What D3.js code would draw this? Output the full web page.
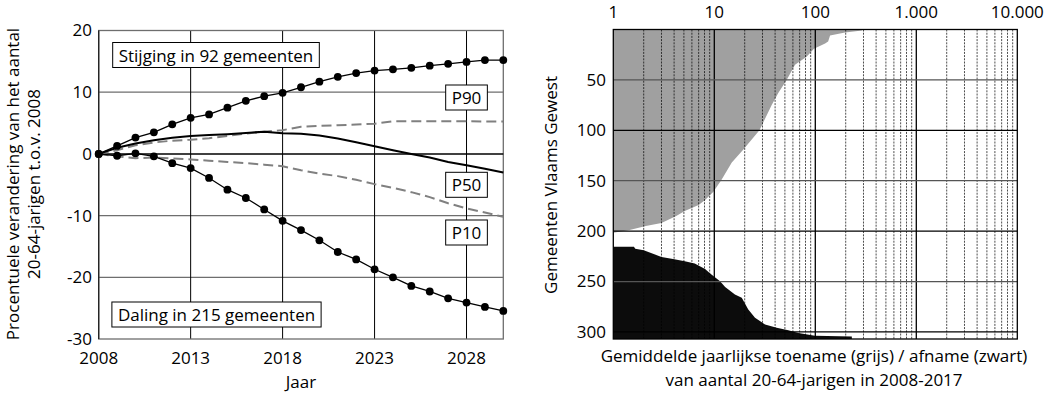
<!DOCTYPE html>
<html>
<head>
<meta charset="utf-8">
<script src="https://cdn.jsdelivr.net/npm/d3@7"></script>
<style>
  body { margin: 0; background: #fff; }
  text { font-family: "Open Sans", sans-serif; font-size: 17px; fill: #000; }
</style>
</head>
<body>
<svg id="chart" width="1055" height="393"></svg>
<script>
// jaren en procentuele verandering t.o.v. 2008
const years = [2008, 2009, 2010, 2011, 2012, 2013, 2014, 2015, 2016, 2017, 2018,
  2019, 2020, 2021, 2022, 2023, 2024, 2025, 2026, 2027, 2028, 2029, 2030];
const maxLine = [0, 1.3, 2.65, 3.5, 4.8, 5.85, 6.4, 7.5, 8.6, 9.35, 9.9, 10.8, 11.7,
  12.5, 13.1, 13.5, 13.7, 13.95, 14.3, 14.6, 14.9, 15.2, 15.2];
const p90 = [0, 0.6, 1.4, 1.85, 2.15, 2.3, 2.55, 2.9, 3.3, 3.6, 3.85, 4.4, 4.55,
  4.65, 4.75, 4.9, 5.3, 5.3, 5.3, 5.3, 5.3, 5.25, 5.25];
const p50 = [0, 1.0, 1.7, 2.2, 2.6, 2.9, 3.05, 3.2, 3.4, 3.6, 3.35, 3.25, 3.0,
  2.5, 1.9, 1.25, 0.6, 0.0, -0.6, -1.3, -1.85, -2.4, -3.0];
const p10 = [0, -0.4, -0.7, -0.6, -0.75, -0.9, -1.1, -1.3, -1.5, -1.75, -2.0, -2.65, -3.2,
  -3.6, -4.2, -4.9, -5.5, -6.2, -7.0, -8.0, -8.85, -9.5, -10.2];
const minLine = [0, -0.3, 0.1, -0.4, -1.5, -2.3, -3.9, -5.8, -7.15, -9.0, -10.85, -12.35, -14.0,
  -15.9, -17.1, -18.7, -20.0, -21.4, -22.3, -23.4, -24.1, -24.8, -25.45];
const leftYTicks = [-30, -20, -10, 0, 10, 20];
const leftXTicks = [2008, 2013, 2018, 2023, 2028];

// gemeenten gerangschikt: [rang, gemiddelde jaarlijkse toename/afname]
const growthRank = [0, 1, 3, 6, 12, 14, 19, 27, 35, 50, 63, 75, 100, 119, 132, 149, 161,
  169, 174, 180, 185, 192, 195, 199, 201.5];
const growthVal = [290, 290, 197, 140, 134, 125, 97, 82, 63, 52, 43, 37, 28, 19.4, 14.9, 11.8, 9.8,
  8.1, 7.0, 5.1, 4.2, 3.0, 2.1, 1.45, 1.0];
const declineRank = [215.6, 217.5, 219, 225.6, 227.6, 230, 232.2, 237.5, 242, 249.7, 255.3,
  262.9, 266, 277.7, 286, 292.6, 295.9, 298.3, 301, 303.8, 304.6, 307];
const declineVal = [1.6, 1.65, 2.0, 3.0, 3.9, 5.1, 6.4, 8.1, 9.1, 11.4, 12.8,
  16, 18.7, 21.7, 25.3, 31.8, 41.5, 54, 68, 99, 230, 230];
const rightYTicks = [50, 100, 150, 200, 250, 300];
const rightXTicks = [1, 10, 100, 1000, 10000];
const rightXLabels = ["1", "10", "100", "1.000", "10.000"];

const svg = d3.select("#chart");
const gridGray = "#6e6e6e";

// ---------- linker grafiek ----------
const x = d3.scaleLinear().domain([2008, 2030]).range([98.7, 503.3]);
const y = d3.scaleLinear().domain([-30, 20]).range([339, 30.5]);
const left = svg.append("g");

left.selectAll(".hgrid")
  .data(leftYTicks.filter(d => d !== 0 && d !== 20 && d !== -30))
  .enter().append("line")
  .attr("x1", x(2008)).attr("x2", x(2030))
  .attr("y1", d => y(d)).attr("y2", d => y(d))
  .attr("stroke", gridGray).attr("stroke-width", 1.3);

left.selectAll(".vgrid")
  .data(leftXTicks.slice(1))
  .enter().append("line")
  .attr("x1", d => x(d)).attr("x2", d => x(d))
  .attr("y1", y(20)).attr("y2", y(-30))
  .attr("stroke", "#000").attr("stroke-width", 1);

left.append("rect")
  .attr("x", x(2008)).attr("y", y(20))
  .attr("width", x(2030) - x(2008)).attr("height", y(-30) - y(20))
  .attr("fill", "none").attr("stroke", gridGray).attr("stroke-width", 1.3);
left.append("line")
  .attr("x1", x(2008)).attr("x2", x(2008)).attr("y1", y(20)).attr("y2", y(-30))
  .attr("stroke", "#222").attr("stroke-width", 1.3);
left.append("line")
  .attr("x1", x(2008)).attr("x2", x(2030)).attr("y1", y(0)).attr("y2", y(0))
  .attr("stroke", "#000").attr("stroke-width", 1.5);

const line = vals => d3.line().x((d, i) => x(years[i])).y(d => y(d))(vals);

left.append("path").attr("d", line(p90))
  .attr("fill", "none").attr("stroke", "#808080").attr("stroke-width", 2)
  .attr("stroke-dasharray", "10,5");
left.append("path").attr("d", line(p10))
  .attr("fill", "none").attr("stroke", "#808080").attr("stroke-width", 2)
  .attr("stroke-dasharray", "10,5");
left.append("path").attr("d", line(p50))
  .attr("fill", "none").attr("stroke", "#000").attr("stroke-width", 2);

[maxLine, minLine].forEach(vals => {
  left.append("path").attr("d", line(vals))
    .attr("fill", "none").attr("stroke", "#000").attr("stroke-width", 1.3);
  left.selectAll(null).data(vals).enter().append("circle")
    .attr("cx", (d, i) => x(years[i])).attr("cy", d => y(d))
    .attr("r", 3.9).attr("fill", "#000");
});

// tekstvakken
function box(g, cx, cy, label) {
  const t = g.append("text").attr("x", cx).attr("y", cy)
    .attr("text-anchor", "middle").attr("dominant-baseline", "central").text(label);
  const b = t.node().getBBox();
  g.insert("rect", () => t.node())
    .attr("x", b.x - 6).attr("y", cy - 12.5)
    .attr("width", b.width + 12).attr("height", 25)
    .attr("fill", "#fff").attr("stroke", "#000").attr("stroke-width", 1);
}
box(left, 216, 55, "Stijging in 92 gemeenten");
box(left, 216.5, 314.5, "Daling in 215 gemeenten");
box(left, x(2028), 97.5, "P90");
box(left, x(2028), 184.8, "P50");
box(left, x(2028), 232.5, "P10");

// assen
left.selectAll(".ylab").data(leftYTicks).enter().append("text")
  .attr("x", 92).attr("y", d => y(d)).attr("dy", "0.35em")
  .attr("text-anchor", "end").text(d => d);
left.selectAll(".xlab").data(leftXTicks).enter().append("text")
  .attr("x", d => x(d)).attr("y", 364)
  .attr("text-anchor", "middle").text(d => d);
left.append("text").attr("x", x(2019)).attr("y", 388)
  .attr("text-anchor", "middle").text("Jaar");
left.append("text").attr("transform", "translate(19,184) rotate(-90)")
  .attr("text-anchor", "middle").text("Procentuele verandering van het aantal");
left.append("text").attr("transform", "translate(40,184) rotate(-90)")
  .attr("text-anchor", "middle").text("20-64-jarigen t.o.v. 2008");

// ---------- rechter grafiek ----------
const xr = d3.scaleLog().domain([1, 10000]).range([613.3, 1017.3]);
const yr = d3.scaleLinear().domain([0, 307]).range([29.5, 339]);
const right = svg.append("g");

const area = (ranks, vals) => d3.area()
  .y((d, i) => yr(ranks[i]))
  .x0(xr(1))
  .x1(d => xr(d))(vals);

right.append("path").attr("d", area(growthRank, growthVal)).attr("fill", "#a0a0a0");
right.append("path").attr("d", area(declineRank, declineVal)).attr("fill", "#0c0c0c");

const minor = [];
[1, 10, 100, 1000].forEach(dec => {
  for (let k = 2; k <= 9; k++) minor.push(dec * k);
});
right.selectAll(".minor").data(minor).enter().append("line")
  .attr("x1", d => xr(d)).attr("x2", d => xr(d))
  .attr("y1", yr(0)).attr("y2", yr(307))
  .attr("stroke", "#000").attr("stroke-width", 0.7)
  .attr("stroke-dasharray", "2,1.2");
right.selectAll(".major").data([10, 100, 1000]).enter().append("line")
  .attr("x1", d => xr(d)).attr("x2", d => xr(d))
  .attr("y1", yr(0)).attr("y2", yr(307))
  .attr("stroke", "#000").attr("stroke-width", 1.3);
right.selectAll(".hgrid").data(rightYTicks).enter().append("line")
  .attr("x1", xr(1)).attr("x2", xr(10000))
  .attr("y1", d => yr(d)).attr("y2", d => yr(d))
  .attr("stroke", d => d % 100 === 0 ? "#000" : "#555").attr("stroke-width", 1.3);
right.append("rect")
  .attr("x", xr(1)).attr("y", yr(0))
  .attr("width", xr(10000) - xr(1)).attr("height", yr(307) - yr(0))
  .attr("fill", "none").attr("stroke", "#000").attr("stroke-width", 1.3);

right.selectAll(".xlab").data(rightXTicks).enter().append("text")
  .attr("x", d => xr(d)).attr("y", 18)
  .attr("text-anchor", "middle").text((d, i) => rightXLabels[i]);
right.selectAll(".ylab").data(rightYTicks).enter().append("text")
  .attr("x", 606).attr("y", d => yr(d)).attr("dy", "0.35em")
  .attr("text-anchor", "end").text(d => d);
right.append("text").attr("transform", "translate(557,185) rotate(-90)")
  .attr("text-anchor", "middle").text("Gemeenten Vlaams Gewest");
right.append("text").attr("x", 814).attr("y", 362)
  .attr("text-anchor", "middle").text("Gemiddelde jaarlijkse toename (grijs) / afname (zwart)");
right.append("text").attr("x", 814).attr("y", 386)
  .attr("text-anchor", "middle").text("van aantal 20-64-jarigen in 2008-2017");
</script>
</body>
</html>
